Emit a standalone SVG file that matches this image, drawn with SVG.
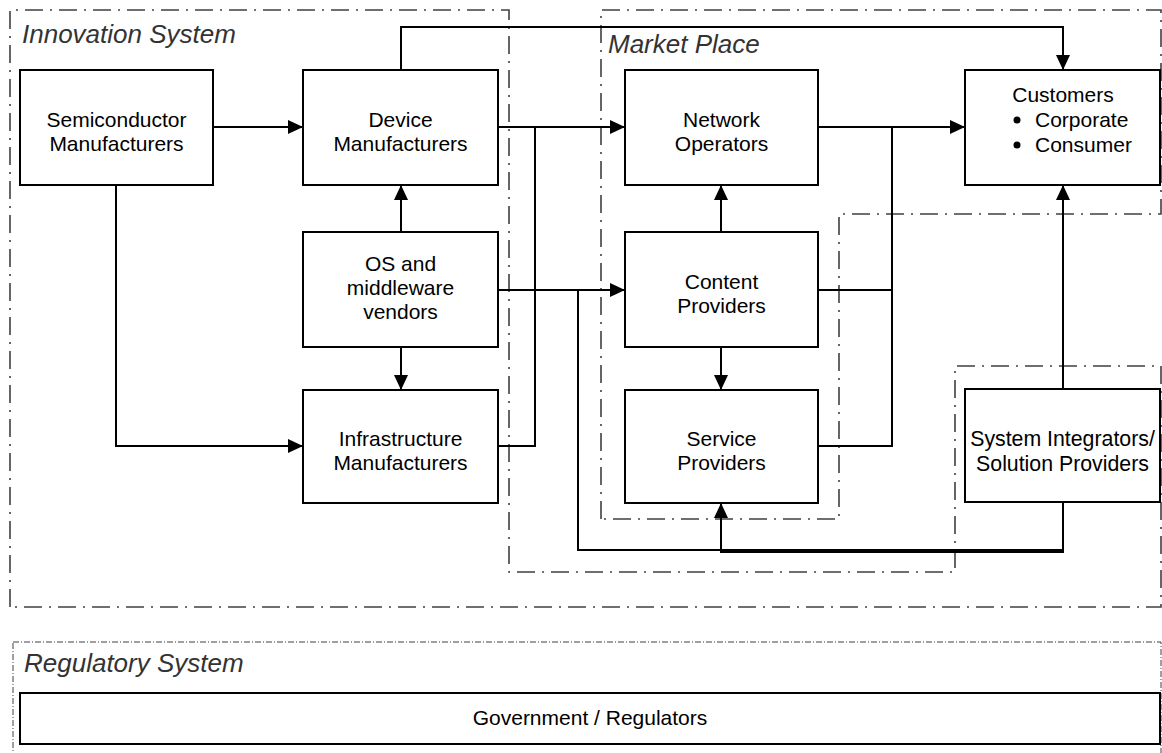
<svg xmlns="http://www.w3.org/2000/svg" width="1162" height="753" viewBox="0 0 1162 753">
  <style>
    .node rect { fill: #ffffff; stroke: #000000; stroke-width: 2; }
    .node text { font-family: "Liberation Sans", Arial, sans-serif; font-size: 21px; fill: #000000; text-anchor: middle; }
    .boundary { fill: none; stroke: #404040; stroke-width: 1.6; stroke-dasharray: 18 7 2 7; }
    .boundary-fine { fill: none; stroke: #404040; stroke-width: 1; stroke-dasharray: 6 2 1 2; }
    .region-label { font-family: "Liberation Sans", Arial, sans-serif; font-size: 26px; font-style: italic; fill: #333333; }
    .conn { fill: none; stroke: #000000; stroke-width: 2; }
    .arrow { marker-end: url(#head); }
  </style>
  <defs>
    <marker id="head" markerUnits="userSpaceOnUse" markerWidth="15" markerHeight="14" refX="15" refY="7" orient="auto">
      <path d="M0,0 L15,7 L0,14 z" fill="#000000"/>
    </marker>
  </defs>

  <rect width="1162" height="753" fill="#ffffff"/>

  <!-- System boundaries -->
  <g id="boundaries">
    <path id="innovation-system" class="boundary" d="M10,607 V10 H509 V572 H955 V366 H1161 V607 Z"/>
    <path id="market-place" class="boundary" d="M601,519 V10 H1161 V214 H839 V519 Z"/>
    <rect id="regulatory-system" class="boundary-fine" x="13" y="642" width="1148" height="115"/>
    <text class="region-label" x="22" y="43">Innovation System</text>
    <text class="region-label" x="608" y="53">Market Place</text>
    <text class="region-label" x="24" y="672">Regulatory System</text>
  </g>

  <!-- Connectors -->
  <g id="connectors">
    <path class="conn arrow" d="M213,127 H303"/>
    <path class="conn arrow" d="M116,185 V446 H303"/>
    <path class="conn arrow" d="M401,70 V27 H1063 V70"/>
    <path class="conn arrow" d="M401,232 V185"/>
    <path class="conn arrow" d="M401,347 V390"/>
    <path class="conn arrow" d="M498,127 H625"/>
    <path class="conn" d="M498,446 H535 V127"/>
    <path class="conn arrow" d="M498,290 H625"/>
    <path class="conn arrow" d="M818,127 H965"/>
    <path class="conn" d="M818,290 H892"/>
    <path class="conn" d="M818,446 H892 V127"/>
    <path class="conn arrow" d="M721,232 V185"/>
    <path class="conn arrow" d="M721,347 V390"/>
    <path class="conn arrow" d="M1063,389 V185"/>
    <path class="conn arrow" d="M1063,502 V552 H721 V503"/>
    <path class="conn" d="M1063,502 V550 H578 V290"/>
  </g>

  <!-- Nodes -->
  <g id="semiconductor-manufacturers" class="node">
    <rect x="20" y="70" width="193" height="115"/>
    <text x="116.5" y="127">Semiconductor</text>
    <text x="116.5" y="151">Manufacturers</text>
  </g>
  <g id="device-manufacturers" class="node">
    <rect x="303" y="70" width="195" height="115"/>
    <text x="400.5" y="127">Device</text>
    <text x="400.5" y="151">Manufacturers</text>
  </g>
  <g id="os-middleware-vendors" class="node">
    <rect x="303" y="232" width="195" height="115"/>
    <text x="400.5" y="271">OS and</text>
    <text x="400.5" y="295">middleware</text>
    <text x="400.5" y="319">vendors</text>
  </g>
  <g id="infrastructure-manufacturers" class="node">
    <rect x="303" y="390" width="195" height="113"/>
    <text x="400.5" y="446">Infrastructure</text>
    <text x="400.5" y="470">Manufacturers</text>
  </g>
  <g id="network-operators" class="node">
    <rect x="625" y="70" width="193" height="115"/>
    <text x="721.5" y="127">Network</text>
    <text x="721.5" y="151">Operators</text>
  </g>
  <g id="content-providers" class="node">
    <rect x="625" y="232" width="193" height="115"/>
    <text x="721.5" y="289">Content</text>
    <text x="721.5" y="313">Providers</text>
  </g>
  <g id="service-providers" class="node">
    <rect x="625" y="390" width="193" height="113"/>
    <text x="721.5" y="446">Service</text>
    <text x="721.5" y="470">Providers</text>
  </g>
  <g id="customers" class="node">
    <rect x="965" y="70" width="195" height="115"/>
    <text x="1063" y="102">Customers</text>
    <circle cx="1017" cy="120" r="3.5" fill="#000000"/>
    <text x="1035" y="127" style="text-anchor:start">Corporate</text>
    <circle cx="1017" cy="145" r="3.5" fill="#000000"/>
    <text x="1035" y="152" style="text-anchor:start">Consumer</text>
  </g>
  <g id="system-integrators" class="node">
    <rect x="965" y="389" width="195" height="113"/>
    <text x="1062.5" y="446" style="font-size:21.3px">System Integrators/</text>
    <text x="1062.5" y="471" style="font-size:21.3px">Solution Providers</text>
  </g>
  <g id="government-regulators" class="node">
    <rect x="20" y="693" width="1140" height="51"/>
    <text x="590" y="725">Government / Regulators</text>
  </g>
</svg>
